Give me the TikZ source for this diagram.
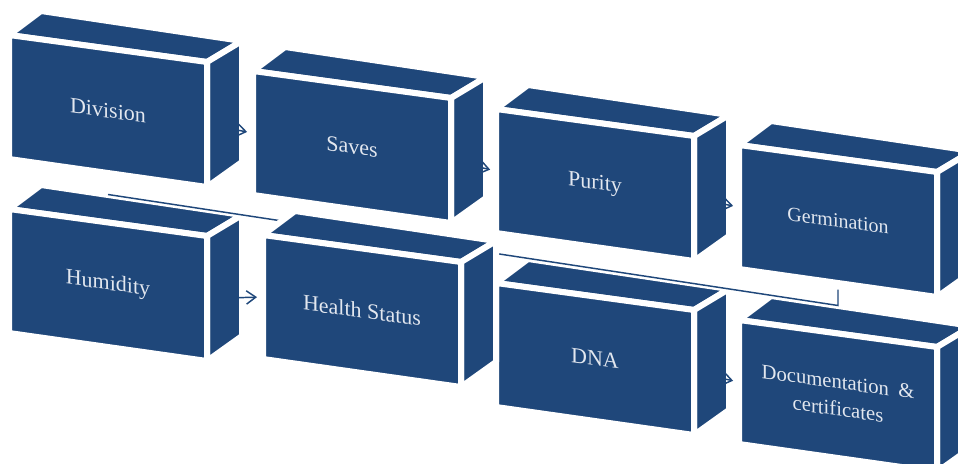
\documentclass[tikz,border=0pt]{standalone}
\usepackage{fontspec}
\setmainfont{Liberation Serif}
\usetikzlibrary{arrows.meta}
\definecolor{boxblue}{RGB}{31,71,122}
\definecolor{labelc}{RGB}{226,231,239}
\tikzset{
  face/.style={fill=boxblue, draw=white, line width=4.5pt, line join=round},
  flow/.style={draw=boxblue, line width=1.1pt, -{Straight Barb[length=7pt,width=10pt]}, shorten >=4.5pt, shorten <=23.5pt},
  link/.style={draw=boxblue, line width=1.1pt, shorten <=5pt},
  lbl/.style={text=labelc, align=center, inner sep=0pt, transform shape},
}
\newcommand\boxpts[3]{%
  \coordinate (#1-l) at ({#2},{#3+62});
  \coordinate (#1-r) at ({#2+198},{#3+89.5});
  \coordinate (#1-t) at ({#2+99},{#3+13.5});
  \coordinate (#1-b) at ({#2+99},{#3+138});
}
\newcommand\cubefaces[2]{%
  \begin{scope}[shift={(#1,#2)}]
    \filldraw[face] (0,0) -- (32,-24) -- (233,6) -- (198,27) -- cycle;
    \filldraw[face] (198,27) -- (233,6) -- (233,127) -- (198,152) -- cycle;
    \filldraw[face] (0,0) -- (198,27) -- (198,152) -- (0,124) -- cycle;
  \end{scope}}
\newcommand\cubetext[5]{%
  \begin{scope}[shift={({#2+99},{#3+75.5})}, yslant=-0.138]
    \node[lbl, font=\fontsize{#4}{20.5}\selectfont] (#1) at (0,0) {#5};
  \end{scope}}
\begin{document}
\begin{tikzpicture}[x=0.75pt,y=-0.75pt]
\useasboundingbox (0,0) rectangle (958,464);
\clip (0,0) rectangle (958,464);
% anchor points of the boxes
\boxpts{division}{9}{35}
\boxpts{saves}{253}{71}
\boxpts{purity}{496}{109}
\boxpts{germ}{739}{145}
\boxpts{humid}{9}{209}
\boxpts{health}{263}{235}
\boxpts{dna}{496}{283}
\boxpts{doc}{739}{320}
\coordinate (bend1) at (838,305.5);
\coordinate (bend2) at (108,194.5);
% boxes under the connector
\cubefaces{9}{35}
\cubefaces{253}{71}
\cubefaces{496}{109}
\cubefaces{9}{209}
\cubefaces{496}{283}
\cubefaces{739}{320}
% connector from Germination back to Humidity
\draw[link] (germ-b) -- (bend1) -- (bend2);
% boxes over the connector
\cubefaces{739}{145}
\cubefaces{263}{235}
% arrows
\draw[flow] (division-r) -- (saves-l);
\draw[flow] (saves-r) -- (purity-l);
\draw[flow] (purity-r) -- (germ-l);
\draw[flow] (humid-r) -- (health-l);
\draw[flow] (dna-r) -- (doc-l);
% labels
\cubetext{tdivision}{9}{35}{16.5}{Division}
\cubetext{tsaves}{253}{71}{16.5}{Saves}
\cubetext{tpurity}{496}{109}{16.5}{Purity}
\cubetext{tgerm}{739}{145}{15}{Germination}
\cubetext{thumid}{9}{209}{16.5}{Humidity}
\cubetext{thealth}{263}{235}{16.5}{Health Status}
\cubetext{tdna}{496}{283}{16.5}{DNA}
\cubetext{tdoc}{739}{320}{15.5}{Documentation\hspace{0.45em}\&\\certificates}
\end{tikzpicture}
\end{document}
